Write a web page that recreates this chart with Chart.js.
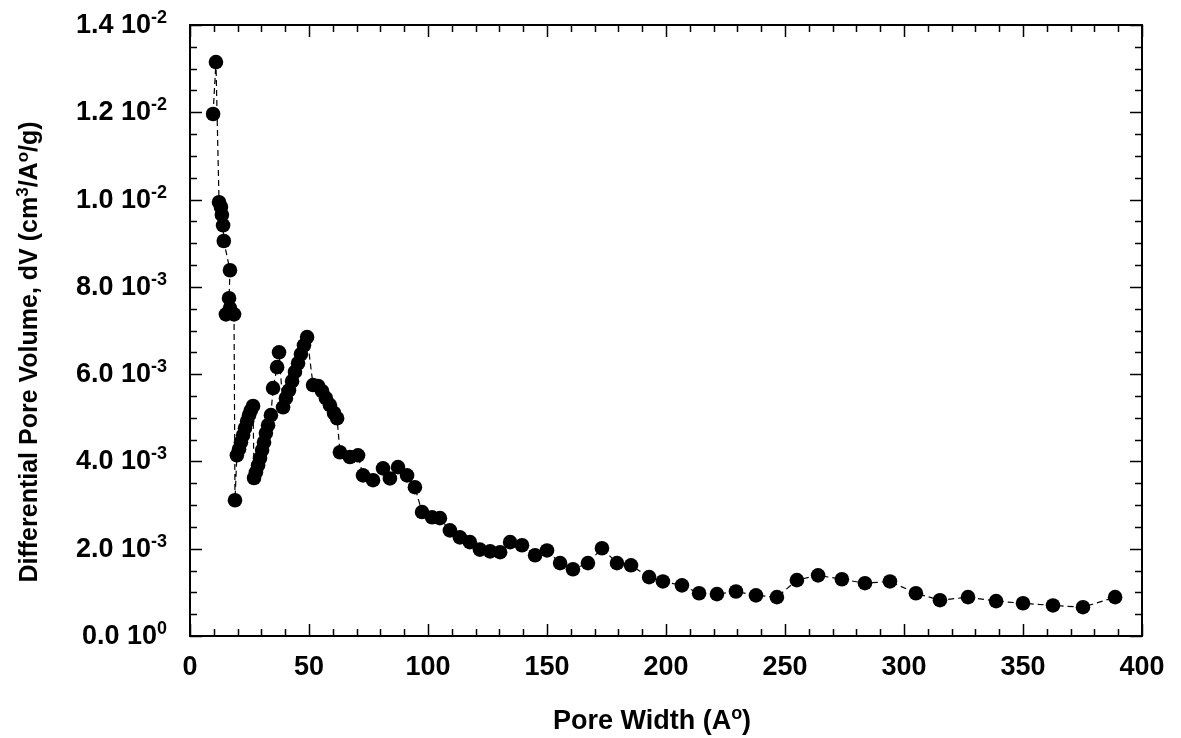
<!DOCTYPE html>
<html>
<head>
<meta charset="utf-8">
<script src="https://cdn.jsdelivr.net/npm/chart.js@4/dist/chart.umd.min.js"></script>
<style>
  html, body { margin: 0; padding: 0; background: #fff; }
  #wrap { width: 1181px; height: 738px; position: relative; }
</style>
</head>
<body>
<div id="wrap"><canvas id="c"></canvas></div>
<script>
// ---- data ----
const poreWidth = [9.7, 10.9, 12.2, 13.0, 13.4, 13.9, 14.2, 16.8, 16.4, 15.1, 16.8, 18.5, 18.9,
  19.7, 20.6, 21.4, 22.3, 23.1, 24.0, 24.8, 25.6, 26.5,
  26.9, 27.7, 28.6, 29.4, 30.3, 31.1, 31.9, 32.8, 34.0, 34.9, 36.6, 37.4,
  39.1, 40.3, 41.6, 42.9, 44.1, 45.4, 46.6, 47.9, 49.2,
  51.7, 53.8, 55.5, 57.1, 58.8, 60.5, 61.8,
  63.0, 67.2, 70.6, 72.7, 76.9, 81.1, 84.0, 87.4, 91.2, 94.5,
  97.5, 101.7, 105.0, 109.2, 113.4, 117.6, 121.8, 126.1,
  130.3, 134.5, 139.5, 145.0, 150.0, 155.5, 160.9, 167.2, 173.1, 179.4, 185.3, 192.9, 198.7, 206.7,
  213.9, 221.4, 229.4, 237.8, 246.6, 255.0, 263.9, 273.9, 283.6, 294.1, 305.0, 315.1, 326.9, 338.7,
  350.0, 362.6, 375.2, 388.7];
const dVmilli = [11.96, 13.15, 9.94, 9.83, 9.65, 9.41, 9.05, 8.38, 7.74, 7.37, 7.51, 7.37, 3.11,
  4.14, 4.28, 4.44, 4.60, 4.76, 4.92, 5.06, 5.17, 5.27,
  3.62, 3.75, 3.91, 4.07, 4.26, 4.44, 4.65, 4.83, 5.06, 5.68, 6.16, 6.50,
  5.24, 5.45, 5.63, 5.84, 6.05, 6.25, 6.46, 6.66, 6.85,
  5.75, 5.73, 5.61, 5.45, 5.29, 5.11, 4.99,
  4.21, 4.10, 4.14, 3.68, 3.57, 3.84, 3.61, 3.87, 3.68, 3.41,
  2.84, 2.72, 2.70, 2.42, 2.26, 2.15, 1.98, 1.94,
  1.92, 2.15, 2.08, 1.85, 1.96, 1.67, 1.53, 1.67, 2.01, 1.67, 1.62, 1.35, 1.25, 1.16,
  0.98, 0.96, 1.02, 0.93, 0.89, 1.28, 1.39, 1.30, 1.21, 1.25, 0.98, 0.82, 0.89, 0.80,
  0.75, 0.70, 0.66, 0.89];

const xTickValues = [0, 50, 100, 150, 200, 250, 300, 350, 400];
const yTickValues = [0, 0.002, 0.004, 0.006, 0.008, 0.010, 0.012, 0.014];
const yTickMantissa = ['0.0', '2.0', '4.0', '6.0', '8.0', '1.0', '1.2', '1.4'];
const yTickExponent = ['0', '-3', '-3', '-3', '-3', '-2', '-2', '-2'];
const xMinorStep = 10;
const yMinorStep = 0.0005;

const points = poreWidth.map((w, i) => ({ x: w, y: dVmilli[i] * 1e-3 }));

const FONT = '"Liberation Sans", Arial, sans-serif';

function richWidth(ctx, parts, main, sup) {
  let w = 0;
  for (const p of parts) { ctx.font = p.sup ? sup : main; w += ctx.measureText(p.t).width; }
  return w;
}
function drawRich(ctx, parts, x, y, main, sup, raise) { // x = left start, y = baseline
  let cx = x;
  for (const p of parts) {
    ctx.font = p.sup ? sup : main;
    ctx.fillText(p.t, cx, p.sup ? y - raise : y);
    cx += ctx.measureText(p.t).width;
  }
}

const framePlugin = {
  id: 'frame',
  afterDraw(chart) {
    const ctx = chart.ctx;
    const xs = chart.scales.x, ys = chart.scales.y;
    const a = chart.chartArea;
    ctx.save();
    ctx.strokeStyle = '#000';
    ctx.fillStyle = '#000';
    // ticks
    ctx.lineWidth = 1.5;
    const MAJ = 12, MIN = 7;
    ctx.beginPath();
    for (let v = 0; v <= 400 + 1e-9; v += xMinorStep) {
      const px = Math.round(xs.getPixelForValue(v)) + 0.5;
      const L = (v % 50 === 0) ? MAJ : MIN;
      ctx.moveTo(px, a.bottom); ctx.lineTo(px, a.bottom - L);
      ctx.moveTo(px, a.top); ctx.lineTo(px, a.top + L);
    }
    for (let k = 0; k <= 28; k++) {
      const v = k * yMinorStep;
      const py = Math.round(ys.getPixelForValue(v)) + 0.5;
      const L = (k % 4 === 0) ? MAJ : MIN;
      ctx.moveTo(a.left, py); ctx.lineTo(a.left + L, py);
      ctx.moveTo(a.right, py); ctx.lineTo(a.right - L, py);
    }
    ctx.stroke();
    // frame
    ctx.lineWidth = 2;
    ctx.strokeRect(a.left, a.top, a.right - a.left, a.bottom - a.top);

    const TICK = 'bold 27px ' + FONT, TSUP = 'bold 18px ' + FONT;
    // x tick labels
    ctx.font = TICK;
    ctx.textAlign = 'center';
    ctx.textBaseline = 'alphabetic';
    for (const v of xTickValues) {
      ctx.fillText(String(v), xs.getPixelForValue(v), a.bottom + 39);
    }
    // y tick labels
    ctx.textAlign = 'left';
    yTickValues.forEach((v, i) => {
      const parts = [{ t: yTickMantissa[i] + ' 10', sup: false }, { t: yTickExponent[i], sup: true }];
      const w = richWidth(ctx, parts, TICK, TSUP);
      drawRich(ctx, parts, 167 - w, ys.getPixelForValue(v) + 8, TICK, TSUP, 10);
    });
    // x title
    const XT = 'bold 27px ' + FONT, XS = 'bold 18px ' + FONT;
    const xt = [{ t: 'Pore Width (A', sup: false }, { t: 'o', sup: true }, { t: ')', sup: false }];
    const xw = richWidth(ctx, xt, XT, XS);
    drawRich(ctx, xt, 652 - xw / 2, 729, XT, XS, 10);
    // y title
    const YT = 'bold 25px ' + FONT, YS = 'bold 17px ' + FONT;
    const yt = [{ t: 'Differential Pore Volume, dV (cm', sup: false }, { t: '3', sup: true },
                { t: '/A', sup: false }, { t: 'o', sup: true }, { t: '/g)', sup: false }];
    const yw = richWidth(ctx, yt, YT, YS);
    ctx.translate(37, 352);
    ctx.rotate(-Math.PI / 2);
    drawRich(ctx, yt, -yw / 2, 0, YT, YS, 9);
    ctx.restore();
  }
};

new Chart(document.getElementById('c'), {
  type: 'scatter',
  data: {
    datasets: [{
      data: points,
      showLine: true,
      borderColor: '#000',
      borderWidth: 1.2,
      borderDash: [6, 4],
      pointRadius: 7.3,
      pointHoverRadius: 7.3,
      pointBackgroundColor: '#000',
      pointBorderWidth: 0,
      tension: 0
    }]
  },
  options: {
    responsive: true,
    maintainAspectRatio: false,
    animation: false,
    events: [],
    layout: { padding: { top: 25, right: 39, left: 0, bottom: 0 } },
    plugins: { legend: { display: false }, tooltip: { enabled: false } },
    scales: {
      x: {
        type: 'linear', min: 0, max: 400,
        grid: { display: false }, border: { display: false },
        ticks: { display: false },
        afterFit(s) { s.height = 102; }
      },
      y: {
        type: 'linear', min: 0, max: 0.014,
        grid: { display: false }, border: { display: false },
        ticks: { display: false },
        afterFit(s) { s.width = 190; }
      }
    }
  },
  plugins: [framePlugin]
});
</script>
</body>
</html>
